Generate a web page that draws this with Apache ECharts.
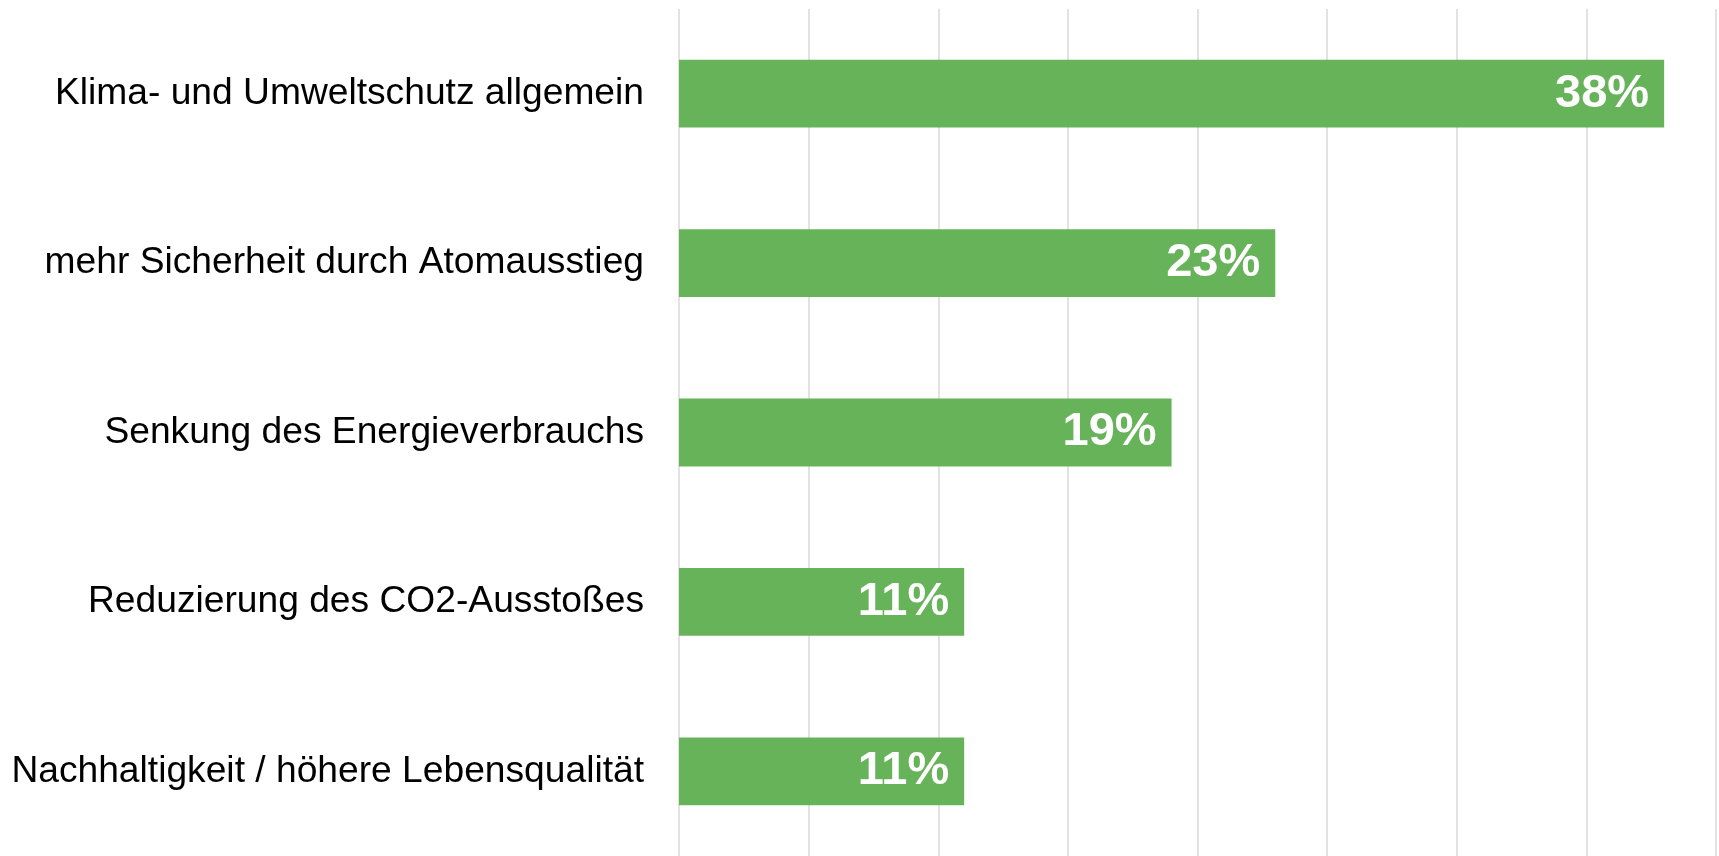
<!DOCTYPE html>
<html>
<head>
<meta charset="utf-8">
<script src="https://cdn.jsdelivr.net/npm/echarts@6/dist/echarts.min.js"></script>
<style>
  html, body { margin: 0; padding: 0; background: #fff; }
  #main { width: 1719px; height: 856px; }
</style>
</head>
<body>
<div id="main"></div>
<script>
var categories = [
    'Klima- und Umweltschutz allgemein',
    'mehr Sicherheit durch Atomausstieg',
    'Senkung des Energieverbrauchs',
    'Reduzierung des CO2-Ausstoßes',
    'Nachhaltigkeit / höhere Lebensqualität'
];
var values = [38, 23, 19, 11, 11];

var mychart = echarts.init(document.getElementById('main'));

var option = {
    animation: false,
    grid: {
        left: 679,
        right: 3,
        top: 9,
        height: 850
    },
    xAxis: {
        type: 'value',
        min: 0,
        max: 40,
        interval: 5,
        axisLabel: { show: false },
        axisLine: { show: false },
        axisTick: { show: false },
        splitLine: {
            show: true,
            lineStyle: { color: '#d9d9d9', width: 1.5 }
        }
    },
    yAxis: {
        type: 'category',
        inverse: true,
        data: categories,
        axisLine: { show: false },
        axisTick: { show: false },
        axisLabel: {
            color: '#000',
            fontFamily: 'Liberation Sans, Arial, sans-serif',
            fontSize: 37.2,
            margin: 35
        }
    },
    series: [
        {
            type: 'bar',
            data: values,
            barWidth: '40%',
            itemStyle: { color: '#67b35a' },
            label: {
                show: true,
                position: 'insideRight',
                distance: 15,
                formatter: '{c}%',
                color: '#fff',
                fontWeight: 'bold',
                fontFamily: 'Liberation Sans, Arial, sans-serif',
                fontSize: 47
            }
        }
    ]
};
mychart.setOption(option);
</script>
</body>
</html>
